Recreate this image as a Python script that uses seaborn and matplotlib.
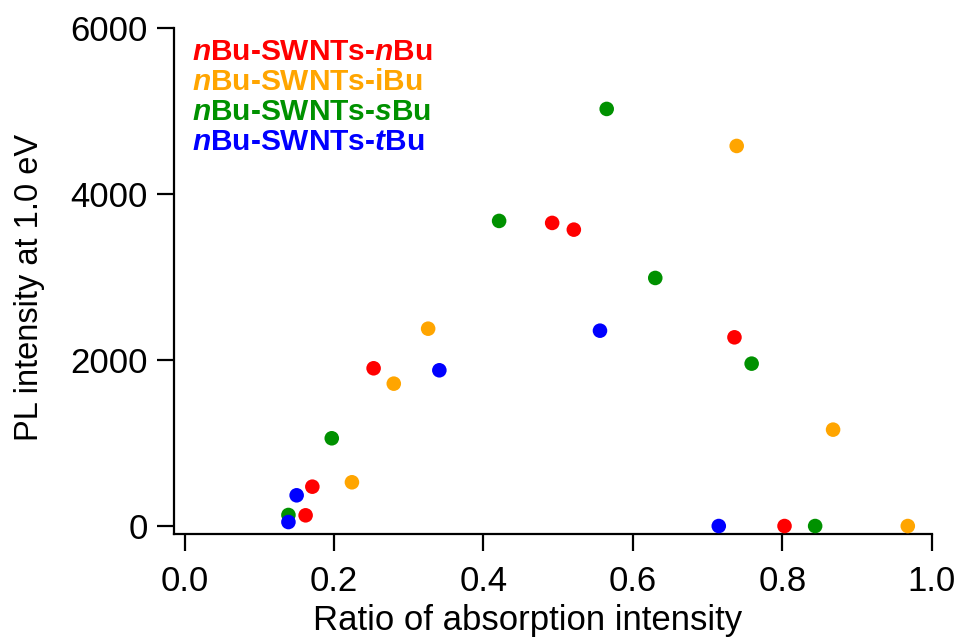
import pandas as pd
import matplotlib.pyplot as plt
import seaborn as sns

# values
red_x = [0.162, 0.171, 0.253, 0.492, 0.521, 0.736, 0.803]
red_y = [129, 474, 1900, 3651, 3570, 2273, 0]
orange_x = [0.224, 0.280, 0.326, 0.739, 0.868, 0.968]
orange_y = [527, 1715, 2377, 4578, 1161, 0]
green_x = [0.139, 0.197, 0.421, 0.565, 0.630, 0.759, 0.844]
green_y = [133, 1057, 3675, 5024, 2988, 1956, 0]
blue_x = [0.139, 0.150, 0.341, 0.556, 0.715]
blue_y = [48, 370, 1876, 2353, 0]

names = ["$n$Bu-SWNTs-$n$Bu", "$n$Bu-SWNTs-iBu", "$n$Bu-SWNTs-$s$Bu", "$n$Bu-SWNTs-$t$Bu"]
colors = ["#ff0000", "#ffa500", "#009100", "#0000ff"]

data = pd.DataFrame({
    "ratio": red_x + orange_x + green_x + blue_x,
    "pl": red_y + orange_y + green_y + blue_y,
    "sample": [names[0]] * len(red_x) + [names[1]] * len(orange_x)
              + [names[2]] * len(green_x) + [names[3]] * len(blue_x),
})

sns.set_style("ticks")
plt.rcParams["font.family"] = ["Liberation Sans", "DejaVu Sans"]
plt.rcParams["mathtext.fontset"] = "custom"
plt.rcParams["mathtext.it"] = "Liberation Sans:italic:bold"
plt.rcParams["mathtext.rm"] = "Liberation Sans:bold"

fig = plt.figure(figsize=(9.62, 6.37), dpi=100)
ax = fig.add_axes([0.181, 0.1617, 0.7875, 0.7945])

sns.scatterplot(data=data, x="ratio", y="pl", hue="sample", palette=colors,
                hue_order=names, s=110, linewidth=0, legend=False, ax=ax, zorder=3)

ax.set_xlim(-0.014, 1.0)
ax.set_ylim(-96, 6000)
ax.set_xticks([0.0, 0.2, 0.4, 0.6, 0.8, 1.0])
ax.set_xticklabels(["0.0", "0.2", "0.4", "0.6", "0.8", "1.0"])
ax.set_yticks([0, 2000, 4000, 6000])
sns.despine(ax=ax)
for sp in ["left", "bottom"]:
    ax.spines[sp].set_linewidth(1.6)
    ax.spines[sp].set_color("black")
ax.tick_params(axis="both", length=12, width=1.6, color="black", labelsize=25, labelcolor="black")
ax.tick_params(axis="x", pad=10)
ax.tick_params(axis="y", pad=7)

ax.set_xlabel("Ratio of absorption intensity", fontsize=25, labelpad=5, color="black")
ax.set_ylabel("PL intensity at 1.0 eV", fontsize=23.5, labelpad=18, color="black")
ax.xaxis.label.set_x(0.467)
ax.yaxis.label.set_y(0.488)

for i, (name, c) in enumerate(zip(names, colors)):
    ax.text(0.024, 0.937 - i * 0.0595, name, transform=ax.transAxes, color=c,
            fontsize=21.5, fontweight="bold", va="baseline", ha="left")

plt.savefig("out.png", dpi=100)
